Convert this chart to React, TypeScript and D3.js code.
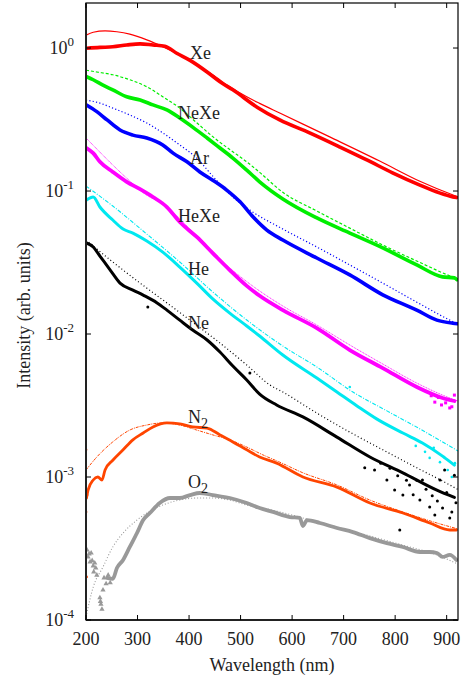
import React from "react";
import * as d3 from "d3";

// ---------- DATA ----------
const xTicks = [200, 300, 400, 500, 600, 700, 800, 900];
const yTickExps = [0, -1, -2, -3, -4];

const xeDataWl = [201, 227, 252, 279, 305, 330, 353, 376, 402, 435, 460, 485, 532, 576, 634, 693, 745, 795, 848, 886, 912, 919];
const xeDataI = [0.995, 1.01, 1.02, 1.05, 1.07, 1.05, 1.03, 0.92, 0.82, 0.68, 0.58, 0.51, 0.386, 0.314, 0.255, 0.203, 0.165, 0.134, 0.11, 0.097, 0.091, 0.09];
const xeFitWl = [200, 214, 237, 260, 285, 318, 349, 382, 415, 446, 479, 512, 537, 576, 673, 770, 848, 915, 922];
const xeFitI = [1.23, 1.29, 1.32, 1.3, 1.25, 1.14, 1.02, 0.89, 0.76, 0.65, 0.536, 0.456, 0.41, 0.351, 0.239, 0.162, 0.117, 0.093, 0.091];

const nexeDataWl = [201, 214, 233, 252, 279, 305, 330, 357, 382, 407, 435, 460, 485, 512, 537, 582, 648, 712, 776, 842, 892, 915, 920];
const nexeDataI = [0.63, 0.6, 0.55, 0.51, 0.456, 0.433, 0.4, 0.369, 0.324, 0.28, 0.235, 0.2, 0.17, 0.14, 0.116, 0.088, 0.0648, 0.0508, 0.04, 0.0304, 0.0251, 0.0247, 0.024];
const nexeFitWl = [200, 221, 252, 285, 318, 349, 382, 415, 446, 479, 512, 537, 582, 648, 712, 776, 842, 906, 922];
const nexeFitI = [0.7, 0.68, 0.65, 0.6, 0.536, 0.456, 0.38, 0.3, 0.24, 0.195, 0.16, 0.135, 0.098, 0.0725, 0.055, 0.0419, 0.0324, 0.0255, 0.0242];

const arDataWl = [201, 221, 241, 266, 291, 318, 349, 369, 396, 421, 446, 473, 499, 524, 551, 582, 648, 712, 776, 842, 881, 912, 921];
const arDataI = [0.4, 0.359, 0.314, 0.267, 0.246, 0.235, 0.21, 0.184, 0.16, 0.136, 0.119, 0.1016, 0.084, 0.066, 0.0533, 0.0454, 0.034, 0.0259, 0.0188, 0.0147, 0.0125, 0.0119, 0.0118];
const arFitWl = [200, 227, 252, 285, 318, 349, 382, 415, 446, 485, 518, 582, 648, 712, 776, 842, 906, 922];
const arFitI = [0.433, 0.412, 0.38, 0.34, 0.299, 0.255, 0.21, 0.17, 0.127, 0.0908, 0.0736, 0.0542, 0.0406, 0.0304, 0.0227, 0.0167, 0.0125, 0.0117];

const hexeDataWl = [201, 214, 227, 252, 279, 305, 330, 357, 382, 415, 446, 479, 512, 537, 582, 648, 712, 776, 842, 892, 915];
const hexeDataI = [0.2, 0.184, 0.16, 0.136, 0.116, 0.103, 0.0908, 0.0773, 0.0607, 0.0477, 0.0368, 0.028, 0.0217, 0.0185, 0.0147, 0.011, 0.00773, 0.00578, 0.00426, 0.00357, 0.0034];
const hexeFitWl = [200, 227, 252, 279, 310, 357, 415, 479, 518, 582, 648, 712, 776, 842, 906, 922];
const hexeFitI = [0.235, 0.187, 0.152, 0.123, 0.098, 0.0773, 0.0485, 0.029, 0.0224, 0.0157, 0.01156, 0.00838, 0.00617, 0.00454, 0.00357, 0.0034];
const hexeOutWl = [870, 877, 884, 890, 898, 906, 910, 915];
const hexeOutI = [0.0037, 0.00334, 0.0036, 0.00319, 0.0033, 0.00304, 0.0031, 0.00374];

const heDataWl = [201, 214, 227, 252, 272, 291, 318, 349, 382, 415, 446, 479, 512, 537, 582, 648, 687, 726, 764, 815, 853, 892, 915];
const heDataI = [0.0865, 0.0908, 0.0773, 0.0627, 0.0542, 0.0508, 0.0447, 0.0374, 0.0294, 0.0227, 0.0176, 0.014, 0.01138, 0.00968, 0.00713, 0.00492, 0.00393, 0.00314, 0.00255, 0.00203, 0.00173, 0.0014, 0.00121];
const heFitWl = [200, 252, 318, 382, 446, 512, 582, 648, 718, 784, 848, 922];
const heFitI = [0.1084, 0.0785, 0.05, 0.0319, 0.0197, 0.01253, 0.00824, 0.00588, 0.00393, 0.0029, 0.00217, 0.00152];
const heOutWl = [712, 840, 858, 867, 875, 887, 895, 902, 910, 916];
const heOutI = [0.00426, 0.00165, 0.0015, 0.00136, 0.0016, 0.00127, 0.00138, 0.00112, 0.001, 0.00125];

const neDataWl = [201, 214, 227, 247, 266, 291, 311, 338, 357, 382, 407, 435, 460, 485, 512, 537, 570, 621, 687, 751, 815, 881, 915];
const neDataI = [0.0433, 0.0406, 0.0351, 0.028, 0.0227, 0.0203, 0.0187, 0.0165, 0.0147, 0.0125, 0.01066, 0.00908, 0.00748, 0.00597, 0.00477, 0.0038, 0.00319, 0.00263, 0.0019, 0.00138, 0.00107, 0.00081, 0.00072];
const neFitWl = [200, 252, 305, 357, 407, 460, 512, 557, 582, 648, 712, 776, 842, 906, 921];
const neFitI = [0.0454, 0.0319, 0.0227, 0.0165, 0.0121, 0.00865, 0.00607, 0.0044, 0.00393, 0.0028, 0.00206, 0.00155, 0.00116, 0.00088, 0.00082];
const neOutWl = [320, 518, 741, 760, 772, 784, 790, 799, 805, 809, 815, 822, 828, 835, 842, 848, 853, 860, 867, 872, 877, 882, 887, 892, 896, 900, 906, 910, 915, 918];
const neOutI = [0.01545, 0.00533, 0.00116, 0.00112, 0.00125, 0.000953, 0.00115, 0.00081, 0.00102, 0.000426, 0.000748, 0.00095, 0.00088, 0.00075, 0.00095, 0.00069, 0.000953, 0.00082, 0.000617, 0.00074, 0.000542, 0.00068, 0.000953, 0.000607, 0.00112, 0.00078, 0.000517, 0.00057, 0.00103, 0.00066];

const n2DataWl = [201, 204, 214, 223, 231, 237, 252, 272, 291, 311, 330, 357, 382, 407, 435, 460, 485, 512, 537, 570, 621, 687, 751, 815, 867, 906, 919];
const n2DataI = [0.000713, 0.00081, 0.000953, 0.001, 0.000953, 0.00112, 0.00131, 0.00155, 0.00182, 0.00203, 0.00224, 0.00239, 0.00235, 0.00224, 0.0022, 0.00197, 0.00176, 0.00155, 0.00138, 0.00125, 0.001, 0.00085, 0.000658, 0.00056, 0.000477, 0.000426, 0.000426];
const n2FitWl = [200, 221, 252, 285, 318, 349, 382, 415, 446, 479, 512, 543, 576, 621, 687, 751, 815, 881, 922];
const n2FitI = [0.00112, 0.00138, 0.00176, 0.00213, 0.00231, 0.00239, 0.00231, 0.00213, 0.00197, 0.00182, 0.00162, 0.00143, 0.00127, 0.00107, 0.00088, 0.00069, 0.00057, 0.000477, 0.000433];
const n2OutWl = [200, 200, 201, 202];
const n2OutI = [0.00155, 0.00057, 0.0002, 0.000748];

const o2DataWl = [241, 252, 260, 272, 285, 299, 311, 324, 343, 363, 382, 402, 421, 446, 479, 512, 537, 563, 596, 615, 621, 629, 654, 687, 718, 751, 784, 815, 848, 867, 881, 892, 906, 919];
const o2DataI = [0.000197, 0.000194, 0.000231, 0.000263, 0.000324, 0.000406, 0.0005, 0.00056, 0.000658, 0.000713, 0.000713, 0.000748, 0.000773, 0.000748, 0.000713, 0.000658, 0.000607, 0.00057, 0.000525, 0.000517, 0.000454, 0.0005, 0.000477, 0.00044, 0.000412, 0.000374, 0.000345, 0.000324, 0.000299, 0.000299, 0.000294, 0.000276, 0.000285, 0.000263];
const o2ScatWl = [202, 204, 206, 208, 210, 212, 214, 215, 217, 219, 221, 227, 228, 229, 231, 233, 235, 239, 243, 247];
const o2ScatI = [0.000309, 0.000276, 0.00029, 0.000255, 0.000294, 0.00026, 0.000239, 0.000217, 0.00025, 0.000231, 0.000206, 0.000143, 0.000135, 0.000129, 0.000119, 0.000162, 0.000197, 0.000179, 0.000206, 0.000182];
const o2FitWl = [200, 214, 233, 252, 272, 299, 318, 349, 382, 415, 446, 479, 512, 543, 576, 621, 687, 751, 815, 881, 922];
const o2FitI = [0.000105, 0.00017, 0.000235, 0.000324, 0.000406, 0.0005, 0.00056, 0.000637, 0.00069, 0.000713, 0.000713, 0.00069, 0.000637, 0.000607, 0.00057, 0.000517, 0.000447, 0.000387, 0.000334, 0.000285, 0.000246];

// ---------- LAYOUT ----------
const W = 466, H = 679;
const L = 86, R = 458, T = 3, B = 620;
const FONT = "'Liberation Serif', 'Times New Roman', serif";

const x = d3.scaleLinear().domain([200, 922]).range([L, R]);
const y = d3.scaleLog().domain([1e-4, 2.065]).range([B, T]);

type Pt = [number, number];
const zip = (a: number[], b: number[]): Pt[] => a.map((v, i) => [v, b[i]]);
const dataLine = d3.line<Pt>().x(d => x(d[0])).y(d => y(d[1])).curve(d3.curveMonotoneX);
const fitLine = d3.line<Pt>().x(d => x(d[0])).y(d => y(d[1])).curve(d3.curveMonotoneX);

const series = [
  { name: "Xe", color: "#ff0000", dw: xeDataWl, di: xeDataI, fw: xeFitWl, fi: xeFitI, dash: "", fwidth: 1.2, dwidth: 3.6 },
  { name: "NeXe", color: "#00ee00", dw: nexeDataWl, di: nexeDataI, fw: nexeFitWl, fi: nexeFitI, dash: "3,2", fwidth: 1.2, dwidth: 3.6 },
  { name: "Ar", color: "#0000ff", dw: arDataWl, di: arDataI, fw: arFitWl, fi: arFitI, dash: "1.2,2.2", fwidth: 1.2, dwidth: 3.6 },
  { name: "HeXe", color: "#ff00ff", dw: hexeDataWl, di: hexeDataI, fw: hexeFitWl, fi: hexeFitI, dash: "1,0.8", fwidth: 0.9, dwidth: 3.8 },
  { name: "He", color: "#00e8f0", dw: heDataWl, di: heDataI, fw: heFitWl, fi: heFitI, dash: "4,1.5,1,1.5", fwidth: 1.1, dwidth: 3.0 },
  { name: "Ne", color: "#000000", dw: neDataWl, di: neDataI, fw: neFitWl, fi: neFitI, dash: "1,2.5", fwidth: 1.2, dwidth: 3.0 },
  { name: "N2", color: "#ff4500", dw: n2DataWl, di: n2DataI, fw: n2FitWl, fi: n2FitI, dash: "3,1,1,1", fwidth: 1.0, dwidth: 2.8 },
  { name: "O2", color: "#999999", dw: o2DataWl, di: o2DataI, fw: o2FitWl, fi: o2FitI, dash: "1,2", fwidth: 1.1, dwidth: 3.8 },
];

const labels = [
  { t: "Xe", sub: "", x: 190, y: 59 },
  { t: "NeXe", sub: "", x: 178, y: 119 },
  { t: "Ar", sub: "", x: 190, y: 164 },
  { t: "HeXe", sub: "", x: 178, y: 222 },
  { t: "He", sub: "", x: 188, y: 275 },
  { t: "Ne", sub: "", x: 188, y: 329 },
  { t: "N", sub: "2", x: 188, y: 423 },
  { t: "O", sub: "2", x: 188, y: 488 },
];

const tri = d3.symbol().type(d3.symbolTriangle).size(12);

export default function App() {
  return (
    <svg width={W} height={H} style={{ position: "absolute", left: 0, top: 0, background: "#fff" }}>
      <defs>
        <clipPath id="plot">
          <rect x={L} y={T} width={R - L} height={B - T} />
        </clipPath>
      </defs>
      <rect x={0} y={0} width={W} height={H} fill="#fff" />
      <g clipPath="url(#plot)">
        {series.map(s => (
          <path key={s.name + "d"} d={dataLine(zip(s.dw, s.di)) || ""} fill="none" stroke={s.color}
            strokeWidth={s.dwidth} strokeLinejoin="round" strokeLinecap="round" />
        ))}
        {zip(o2ScatWl, o2ScatI).map((p, i) => (
          <path key={"o2s" + i} d={tri() || ""} transform={`translate(${x(p[0])},${y(p[1])})`} fill="#999999" />
        ))}
        {zip(neOutWl, neOutI).map((p, i) => (
          <circle key={"neo" + i} cx={x(p[0])} cy={y(p[1])} r={1.5} fill="#000" />
        ))}
        {zip(heOutWl, heOutI).map((p, i) => (
          <circle key={"heo" + i} cx={x(p[0])} cy={y(p[1])} r={1.3} fill="#00e8f0" />
        ))}
        {zip(hexeOutWl, hexeOutI).map((p, i) => (
          <rect key={"hxo" + i} x={x(p[0]) - 1.5} y={y(p[1]) - 1.5} width={3} height={3} fill="#ff00ff" />
        ))}
        {zip(n2OutWl, n2OutI).map((p, i) => (
          <circle key={"n2o" + i} cx={x(p[0])} cy={y(p[1])} r={1.4} fill="#ff4500" />
        ))}
        {series.map(s => (
          <path key={s.name + "f"} d={fitLine(zip(s.fw, s.fi)) || ""} fill="none" stroke={s.color}
            strokeWidth={s.fwidth} strokeDasharray={s.dash || undefined} />
        ))}
      </g>

      {/* frame */}
      <rect x={L} y={T} width={R - L} height={B - T} fill="none" stroke="#000" strokeWidth={1.2} />
      <line x1={L} x2={L} y1={T} y2={B} stroke="#222" strokeWidth={2} />
      <line x1={L} x2={R} y1={B} y2={B} stroke="#222" strokeWidth={2} />

      {/* x ticks */}
      {xTicks.map(v => (
        <g key={"xt" + v}>
          <line x1={x(v)} x2={x(v)} y1={B} y2={B - 5} stroke="#000" strokeWidth={1} />
          <line x1={x(v)} x2={x(v)} y1={T} y2={T + 5} stroke="#000" strokeWidth={1} />
          <text x={x(v)} y={645} textAnchor="middle" fontFamily={FONT} fontSize={18} fill="#222">{v}</text>
        </g>
      ))}
      {/* y ticks */}
      {yTickExps.map(e => {
        const py = y(Math.pow(10, e));
        return (
          <g key={"yt" + e}>
            <line x1={L} x2={L + 5} y1={py} y2={py} stroke="#000" strokeWidth={1} />
            <line x1={R} x2={R - 5} y1={py} y2={py} stroke="#000" strokeWidth={1} />
            <text x={74} y={py + 6} textAnchor="end" fontFamily={FONT} fontSize={18} fill="#222">
              10<tspan dy={-8} fontSize={13}>{e === 0 ? "0" : "-" + Math.abs(e)}</tspan>
            </text>
          </g>
        );
      })}

      {/* series labels */}
      {labels.map(l => (
        <text key={"lb" + l.t + l.sub} x={l.x} y={l.y} fontFamily={FONT} fontSize={18} fill="#222">
          {l.t}
          {l.sub ? <tspan dy={5} fontSize={14}>{l.sub}</tspan> : null}
        </text>
      ))}

      <text x={(L + R) / 2} y={671} textAnchor="middle" fontFamily={FONT} fontSize={18} fill="#222">Wavelength (nm)</text>
      <text transform={`translate(30,${(T + B) / 2 + 4}) rotate(-90)`} textAnchor="middle" fontFamily={FONT} fontSize={18} fill="#222">
        Intensity (arb. units)
      </text>
    </svg>
  );
}
